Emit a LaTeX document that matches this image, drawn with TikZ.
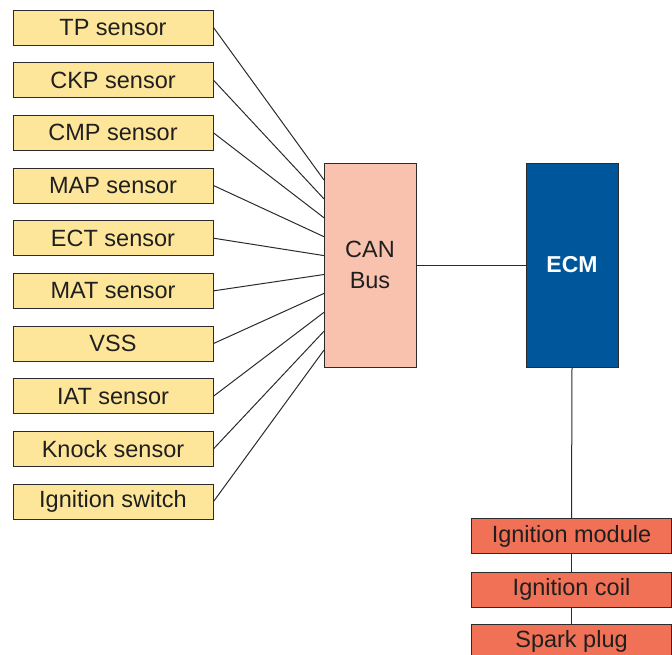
\documentclass[tikz,border=0pt]{standalone}
\usepackage{fontspec}
\setmainfont{Liberation Sans}
\definecolor{sensorfill}{HTML}{FDE59A}
\definecolor{canfill}{HTML}{F9C2AF}
\definecolor{ecmfill}{HTML}{00569A}
\definecolor{outfill}{HTML}{F07156}
\definecolor{edge}{HTML}{2B2B2B}
\begin{document}
\begin{tikzpicture}[x=1pt,y=-1pt,
  box/.style={draw=edge, line width=1pt, minimum width=200pt, minimum height=35pt, inner sep=0pt, font=\fontsize{23.5}{26}\selectfont, text=black!88},
  sensorbox/.style={box, fill=sensorfill},
  outbox/.style={box, fill=outfill},
  wire/.style={draw=edge, line width=1pt}]
\useasboundingbox (0,0) rectangle (672,654);
\foreach \t [count=\i] in {TP sensor,CKP sensor,CMP sensor,MAP sensor,ECT sensor,MAT sensor,VSS,IAT sensor,Knock sensor,Ignition switch}{
  \node[sensorbox] (s\i) at (113,{27.5+52.67*(\i-1)}) {\t};
}
\node[draw=edge, line width=1pt, fill=canfill, minimum width=92pt, minimum height=204pt, inner sep=0pt,
  align=center, font=\fontsize{23.5}{31}\selectfont, text=black!88] (can) at (370,265) {CAN\\Bus};
\node[draw=edge, line width=1pt, fill=ecmfill, minimum width=92pt, minimum height=204pt, inner sep=0pt,
  font=\fontsize{23}{26}\selectfont\bfseries, text=white] (ecm) at (572,265) {ECM};
\node[outbox] (im) at (571.5,536) {Ignition module};
\node[outbox] (ic) at (571.5,589.5) {Ignition coil};
\node[outbox] (sp) at (571.5,641.5) {Spark plug};
\foreach \i in {1,...,10}{
  \coordinate (c\i) at (324,{180+18.9*(\i-1)});
  \draw[wire] (s\i.east) -- (c\i);
}
\draw[wire] (can.east) -- (ecm.west);
\draw[wire] (ecm.south) -- (im.north);
\draw[wire] (im.south) -- (ic.north);
\draw[wire] (ic.south) -- (sp.north);
\end{tikzpicture}
\end{document}
